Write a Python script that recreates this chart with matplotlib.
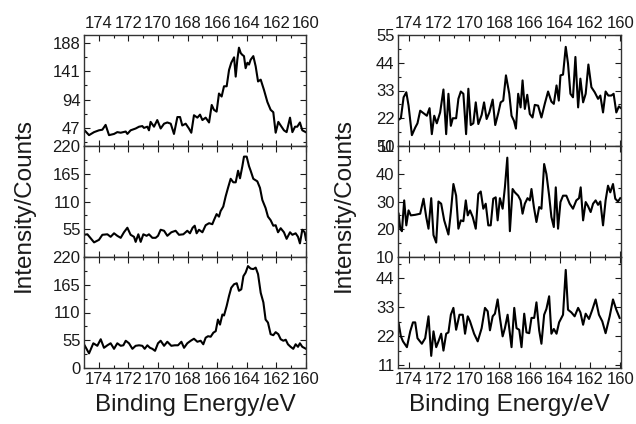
import matplotlib
matplotlib.use('Agg')
import matplotlib.pyplot as plt
from matplotlib.ticker import MultipleLocator, AutoMinorLocator

plt.rcParams['font.family'] = ['Liberation Sans', 'DejaVu Sans']

# ---- left column (binding energy in eV, intensity in counts) ----
e_l1 = [175.00, 174.66, 174.32, 173.99, 173.76, 173.54, 173.31, 172.97, 172.75, 172.52,
        172.18, 172.07, 171.85, 171.51, 171.28, 171.06, 170.95, 170.72, 170.61, 170.50,
        170.27, 170.05, 169.82, 169.59, 169.37, 169.14, 168.92, 168.69, 168.51, 168.36,
        168.13, 167.91, 167.75, 167.57, 167.34, 167.16, 167.00, 166.78, 166.55, 166.37,
        166.22, 166.04, 165.88, 165.70, 165.54, 165.36, 165.20, 165.05, 164.86, 164.75,
        164.64, 164.53, 164.41, 164.30, 164.19, 164.08, 163.96, 163.85, 163.74, 163.56,
        163.40, 163.24, 163.06, 162.84, 162.61, 162.39, 162.21, 162.05, 161.87, 161.71,
        161.49, 161.31, 161.08, 160.92, 160.74, 160.59, 160.41, 160.25, 160.02]
i_l1 = [44, 35, 40, 43, 44, 52, 35, 37, 40, 39,
        41, 37, 43, 46, 49, 50, 47, 49, 43, 57,
        49, 60, 46, 54, 56, 54, 37, 65, 65, 51,
        54, 46, 39, 68, 64, 69, 60, 64, 56, 85,
        77, 74, 104, 99, 116, 116, 143, 155, 164, 132,
        160, 180, 171, 168, 166, 146, 155, 152, 160, 166,
        149, 124, 127, 110, 90, 77, 73, 39, 57, 51,
        43, 40, 64, 40, 49, 49, 56, 43, 40]

e_l2 = [175.00, 174.77, 174.32, 173.99, 173.76, 173.42, 173.20, 172.97, 172.75, 172.52,
        172.30, 172.07, 171.85, 171.62, 171.51, 171.33, 171.17, 170.99, 170.77, 170.61,
        170.38, 170.16, 170.00, 169.82, 169.59, 169.37, 169.10, 168.81, 168.58, 168.29,
        168.02, 167.84, 167.66, 167.52, 167.39, 167.23, 167.00, 166.78, 166.55, 166.33,
        166.22, 166.04, 165.88, 165.77, 165.59, 165.43, 165.27, 165.09, 164.91, 164.75,
        164.59, 164.46, 164.30, 164.19, 164.01, 163.85, 163.74, 163.56, 163.29, 163.11,
        162.95, 162.73, 162.57, 162.39, 162.21, 162.05, 161.89, 161.71, 161.49, 161.31,
        161.08, 160.92, 160.70, 160.54, 160.41, 160.25, 160.09, 160.00]
i_l2 = [44, 45, 29, 34, 44, 45, 40, 47, 42, 38,
        49, 58, 44, 40, 30, 45, 30, 45, 42, 45,
        38, 38, 42, 54, 52, 42, 49, 52, 44, 45,
        52, 47, 58, 62, 47, 54, 49, 63, 67, 65,
        73, 85, 80, 91, 100, 120, 137, 155, 148, 148,
        171, 156, 180, 199, 199, 180, 171, 155, 150, 137,
        113, 97, 80, 73, 62, 63, 49, 57, 49, 36,
        49, 44, 47, 40, 27, 54, 49, 34]

e_l3 = [175.00, 174.66, 174.37, 174.10, 173.87, 173.65, 173.42, 173.20, 172.97, 172.75,
        172.52, 172.34, 172.18, 171.96, 171.73, 171.51, 171.28, 171.06, 170.90, 170.72,
        170.54, 170.38, 170.20, 170.00, 169.82, 169.59, 169.37, 169.10, 168.87, 168.65,
        168.42, 168.24, 168.02, 167.79, 167.57, 167.34, 167.12, 166.94, 166.78, 166.62,
        166.44, 166.26, 166.10, 165.95, 165.81, 165.65, 165.54, 165.36, 165.20, 165.05,
        164.86, 164.68, 164.53, 164.37, 164.23, 164.08, 163.92, 163.74, 163.56, 163.40,
        163.24, 163.06, 162.88, 162.73, 162.57, 162.39, 162.21, 162.05, 161.87, 161.71,
        161.53, 161.37, 161.22, 161.04, 160.86, 160.70, 160.54, 160.41, 160.25, 160.00]
i_l3 = [47, 29, 49, 44, 57, 40, 45, 49, 38, 49,
        44, 45, 54, 49, 38, 44, 45, 44, 38, 45,
        40, 38, 34, 49, 54, 44, 52, 44, 45, 45,
        52, 40, 49, 54, 58, 52, 54, 47, 60, 63,
        62, 70, 73, 96, 86, 106, 104, 123, 143, 159,
        166, 168, 153, 156, 182, 189, 202, 197, 196, 199,
        186, 149, 130, 96, 90, 67, 65, 71, 67, 57,
        54, 56, 47, 42, 38, 47, 42, 49, 42, 38]

# ---- right column ----
e_r1 = [174.68, 174.53, 174.35, 174.17, 174.02, 173.80, 173.58, 173.43, 173.25, 173.03,
        172.81, 172.63, 172.48, 172.32, 172.15, 171.93, 171.71, 171.53, 171.38, 171.22,
        171.09, 170.87, 170.72, 170.56, 170.39, 170.21, 170.06, 169.90, 169.73, 169.57,
        169.40, 169.18, 169.02, 168.85, 168.67, 168.45, 168.28, 168.08, 167.92, 167.75,
        167.57, 167.35, 167.20, 167.04, 166.91, 166.76, 166.60, 166.47, 166.32, 166.16,
        165.99, 165.81, 165.66, 165.44, 165.22, 165.00, 164.78, 164.56, 164.40, 164.22,
        164.07, 163.96, 163.79, 163.61, 163.46, 163.30, 163.13, 162.97, 162.79, 162.64,
        162.46, 162.29, 162.11, 161.91, 161.69, 161.47, 161.32, 161.14, 160.97, 160.79,
        160.59, 160.44, 160.26, 160.09, 159.95]
i_r1 = [21.4, 22, 30.3, 32.3, 27, 15.3, 18.3, 20, 25, 24,
        23, 26, 15.7, 23, 20, 24.3, 33.4, 15.7, 31.7, 19,
        22, 22, 29.7, 32.6, 31.7, 15.7, 33.7, 19.3, 20, 28.3,
        19.7, 23.3, 28.3, 21.7, 24.3, 29.4, 19.3, 24, 28.3, 29,
        39, 31.7, 23, 21, 17.9, 31.7, 26.3, 37, 25.7, 31.3,
        23.7, 22.3, 27.3, 27, 22.3, 27.7, 32.6, 28.6, 27.7, 35,
        29, 39, 39.3, 50.3, 43.7, 31.7, 30.3, 46.3, 26.3, 37.7,
        28.3, 31.7, 43.3, 34.3, 32.3, 29.7, 31, 24.3, 32.6, 31,
        31, 31.7, 24.3, 26.7, 26]

e_r2 = [174.68, 174.57, 174.46, 174.31, 174.17, 174.02, 173.87, 173.58, 173.25, 173.03,
        172.85, 172.70, 172.52, 172.37, 172.19, 172.04, 171.86, 171.66, 171.38, 171.22,
        171.05, 170.87, 170.72, 170.56, 170.39, 170.23, 170.10, 169.95, 169.77, 169.57,
        169.40, 169.24, 169.07, 168.91, 168.74, 168.58, 168.41, 168.25, 168.12, 167.97,
        167.79, 167.64, 167.48, 167.31, 167.13, 166.98, 166.76, 166.60, 166.47, 166.32,
        166.14, 165.99, 165.88, 165.72, 165.55, 165.37, 165.22, 165.04, 164.89, 164.71,
        164.56, 164.40, 164.27, 164.12, 163.96, 163.79, 163.57, 163.35, 163.13, 162.91,
        162.73, 162.62, 162.46, 162.29, 162.13, 161.96, 161.80, 161.63, 161.47, 161.32,
        161.14, 160.97, 160.81, 160.66, 160.48, 160.33, 160.15, 160.00]
i_r2 = [25.6, 20.2, 19.3, 30.4, 21.4, 26.8, 25, 25.2, 25.6, 31,
        24.4, 20.2, 31.2, 17.9, 15.2, 30, 29.2, 23.2, 18.1, 26.2,
        36.3, 32.1, 20.2, 23.2, 22.9, 30.4, 25, 26.8, 24.4, 20.2,
        32.7, 33.6, 27.4, 29.2, 21.4, 21.4, 31, 31.5, 23.2, 31.2,
        27.4, 35.1, 45.8, 19.3, 34.5, 33.3, 32.1, 30.4, 25.6, 29.2,
        31.2, 30.4, 34.5, 28, 22.6, 28, 27.4, 43.5, 39.9, 32.1,
        24.4, 20.8, 35.1, 20.2, 29.8, 32.1, 32.1, 29.2, 27.4, 30.4,
        31.2, 35.1, 23.2, 29.8, 28.3, 26.2, 29.2, 30.4, 28.8, 30,
        21.4, 30.4, 35.7, 33.3, 36.3, 31, 30, 31.2]

e_r3 = [174.68, 174.53, 174.39, 174.13, 173.91, 173.73, 173.58, 173.43, 173.14, 172.92,
        172.70, 172.52, 172.37, 172.19, 172.04, 171.86, 171.71, 171.53, 171.38, 171.22,
        171.05, 170.87, 170.65, 170.43, 170.28, 170.10, 169.95, 169.68, 169.44, 169.18,
        168.96, 168.78, 168.63, 168.45, 168.30, 168.12, 167.97, 167.79, 167.64, 167.46,
        167.20, 167.02, 166.87, 166.69, 166.54, 166.36, 166.21, 166.03, 165.88, 165.70,
        165.55, 165.37, 165.22, 165.04, 164.89, 164.71, 164.56, 164.40, 164.22, 164.05,
        163.79, 163.61, 163.46, 163.24, 163.02, 162.79, 162.64, 162.46, 162.29, 162.07,
        161.85, 161.63, 161.41, 161.19, 160.97, 160.70, 160.48, 160.26, 160.04]
i_r3 = [27, 21.9, 20, 17.8, 23.8, 27.2, 27.2, 21.2, 19.1, 21.2,
        29.5, 14.5, 23.8, 17.8, 20, 22.9, 16.5, 22.9, 23.4, 30.1,
        32.7, 24.4, 30.1, 30.1, 22.9, 29.5, 27.6, 22.9, 20, 25,
        32.7, 31.4, 24.2, 29.5, 30.5, 35.9, 28.9, 21.9, 25, 30.1,
        17.8, 32.7, 25, 24.4, 17.8, 30.5, 23.4, 23.1, 28.9, 28.9,
        34.8, 24.2, 19.1, 30.1, 32.3, 37.1, 22.9, 24.7, 22.9, 27.2,
        30.1, 47.1, 32, 31, 29.5, 32.7, 31, 26.3, 30.5, 28.5,
        32, 35.9, 30.1, 27.6, 23.1, 29.5, 35.9, 32, 28.9]

left_yticks = [[47, 94, 141, 188], [55, 110, 165, 220], [0, 55, 110, 165, 220]]
left_ylims = [(17, 201), (0, 220), (0, 220)]
right_yticks = [[11, 22, 33, 44, 55], [10, 20, 30, 40, 50], [11, 22, 33, 44]]
right_ylims = [(11, 55), (10, 50), (9.9, 52)]

W, H = 636, 424
fig = plt.figure(figsize=(W / 100, H / 100), dpi=100)
ink = '#1a1a1a'

rows_px = [(35, 146), (146, 257), (257, 368)]
cols = [
    (84, 306, (175, 160), [(e_l1, i_l1), (e_l2, i_l2), (e_l3, i_l3)], left_ylims, left_yticks),
    (398, 621, (174.72, 159.95), [(e_r1, i_r1), (e_r2, i_r2), (e_r3, i_r3)], right_ylims, right_yticks),
]

for x0, x1, xlim, series, ylims, yticks in cols:
    for r, (y0, y1) in enumerate(rows_px):
        ax = fig.add_axes([x0 / W, 1 - y1 / H, (x1 - x0) / W, (y1 - y0) / H])
        e, inten = series[r]
        ax.plot(e, inten, color='black', lw=1.5)
        ax.set_xlim(*xlim)
        ax.set_ylim(*ylims[r])
        ax.set_yticks(yticks[r])
        ax.xaxis.set_major_locator(MultipleLocator(2))
        ax.xaxis.set_minor_locator(MultipleLocator(1))
        ax.yaxis.set_minor_locator(AutoMinorLocator(2))
        ax.tick_params(which='both', direction='in', top=True, right=True,
                       labelsize=12, colors=ink, labelcolor=ink, width=0.8)
        ax.tick_params(which='major', length=4, pad=3)
        ax.tick_params(which='minor', length=2)
        ax.tick_params(axis='x', labeltop=(r == 0), labelbottom=(r == 2), pad=3)
        ax.tick_params(axis='y', pad=2.5)
        for s in ax.spines.values():
            s.set_color('#333333')
            s.set_linewidth(1.0)
    xc = (x0 + x1) / 2 / W
    fig.text(xc, 1 - 405 / H, 'Binding Energy/eV', ha='center', va='center',
             fontsize=17.5, color=ink)

fig.text(24 / W, 1 - 205 / H, 'Intensity/Counts', rotation=90, ha='center',
         va='center', fontsize=17.5, color=ink)
fig.text(344 / W, 1 - 205 / H, 'Intensity/Counts', rotation=90, ha='center',
         va='center', fontsize=17.5, color=ink)

fig.savefig('out.png', dpi=100)
